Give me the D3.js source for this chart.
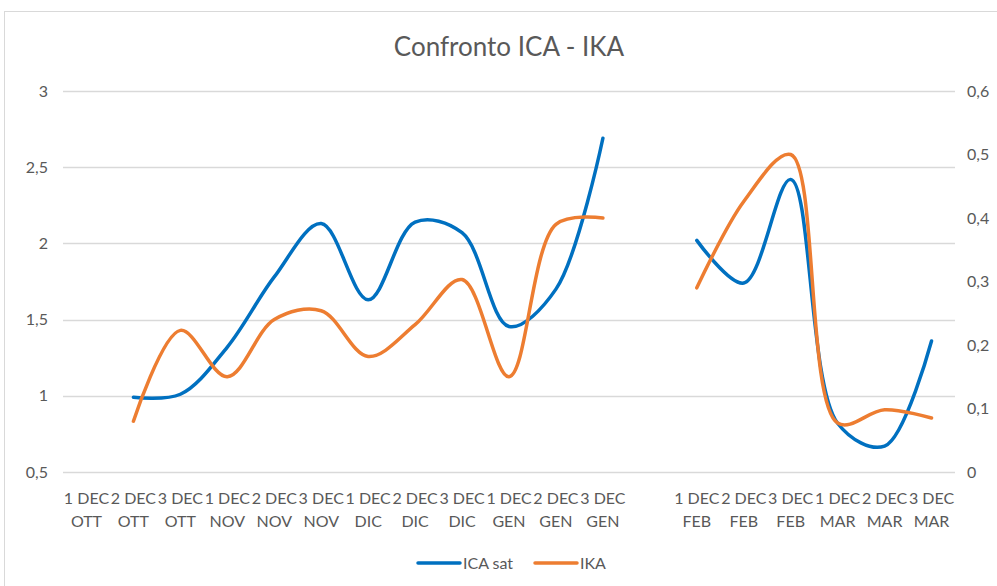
<!DOCTYPE html>
<html>
<head>
<meta charset="utf-8">
<script src="https://cdn.jsdelivr.net/npm/d3@7"></script>
<style>
  body { margin: 0; background: #fff; }
  text { font-family: Lato, "Open Sans", sans-serif; fill: #595959; }
</style>
</head>
<body>
<div id="chart"></div>
<script>
// categories (empty slot between GEN and FEB)
var decadi = ["1 DEC","2 DEC","3 DEC","1 DEC","2 DEC","3 DEC","1 DEC","2 DEC","3 DEC","1 DEC","2 DEC","3 DEC","","1 DEC","2 DEC","3 DEC","1 DEC","2 DEC","3 DEC"];
var mesi = ["OTT","OTT","OTT","NOV","NOV","NOV","DIC","DIC","DIC","GEN","GEN","GEN","","FEB","FEB","FEB","MAR","MAR","MAR"];

var icaSat = [null,0.99,1.01,1.32,1.78,2.13,1.63,2.14,2.07,1.455,1.70,2.69,null,2.02,1.74,2.42,0.82,0.67,1.36];
var ika    = [null,0.08,0.223,0.15,0.24,0.254,0.182,0.232,0.303,0.15,0.39,0.40,null,0.29,0.426,0.50,0.077,0.098,0.085];

var leftTicks = [0.5,1,1.5,2,2.5,3];
var rightTicks = [0,0.1,0.2,0.3,0.4,0.5,0.6];

var W = 997, H = 586;
var margin = {top: 91, right: 42, bottom: 114, left: 63},
    width = W - margin.left - margin.right,
    height = H - margin.top - margin.bottom;

var svg = d3.select("#chart").append("svg")
    .attr("width", W)
    .attr("height", H);

// outer chart border
svg.append("rect")
    .attr("x", 4.5).attr("y", 11.5)
    .attr("width", W + 10).attr("height", H + 10)
    .attr("fill", "none")
    .attr("stroke", "#d9d9d9");

svg.append("text")
    .attr("x", 509).attr("y", 56)
    .attr("text-anchor", "middle")
    .style("font-size", "26px")
    .text("Confronto ICA - IKA");

var g = svg.append("g")
    .attr("transform", "translate(" + margin.left + "," + margin.top + ")");

var xScale = d3.scaleBand()
    .domain(d3.range(decadi.length))
    .range([0, width]);

var yLeft = d3.scaleLinear().domain([0.5, 3]).range([height, 0]);
var yRight = d3.scaleLinear().domain([0, 0.6]).range([height, 0]);

var fmt = function(d) { return String(d).replace(".", ","); };

// gridlines
g.selectAll(".grid")
    .data(leftTicks)
  .enter().append("line")
    .attr("class", "grid")
    .attr("x1", 0).attr("x2", width)
    .attr("y1", function(d) { return Math.round(yLeft(d)) + 0.5; })
    .attr("y2", function(d) { return Math.round(yLeft(d)) + 0.5; })
    .attr("stroke", "#d9d9d9")
    .attr("stroke-width", 1.3);

// left axis
var yAxisL = g.append("g")
    .call(d3.axisLeft(yLeft).tickValues(leftTicks).tickSize(0).tickPadding(15).tickFormat(fmt));
yAxisL.select(".domain").remove();
yAxisL.selectAll("text").style("font-size", "16px").attr("fill", "#595959");

// right axis
var yAxisR = g.append("g")
    .attr("transform", "translate(" + width + ",0)")
    .call(d3.axisRight(yRight).tickValues(rightTicks).tickSize(0).tickPadding(12).tickFormat(fmt));
yAxisR.select(".domain").remove();
yAxisR.selectAll("text").style("font-size", "16px").attr("fill", "#595959");

// x labels, two lines
var xl = g.selectAll(".xlab")
    .data(decadi)
  .enter().append("text")
    .attr("class", "xlab")
    .attr("text-anchor", "middle")
    .style("font-size", "16px")
    .attr("transform", function(d, i) {
      return "translate(" + (xScale(i) + xScale.bandwidth() / 2) + "," + (height + 32) + ")";
    });
xl.append("tspan").attr("x", 0).attr("dy", 0).text(function(d) { return d; });
xl.append("tspan").attr("x", 0).attr("dy", 23).text(function(d, i) { return mesi[i]; });

var cx = function(i) { return xScale(i) + xScale.bandwidth() / 2; };

var lineL = d3.line()
    .defined(function(d) { return d != null; })
    .x(function(d, i) { return cx(i); })
    .y(function(d) { return yLeft(d); })
    .curve(d3.curveCatmullRom.alpha(0.5));

var lineR = d3.line()
    .defined(function(d) { return d != null; })
    .x(function(d, i) { return cx(i); })
    .y(function(d) { return yRight(d); })
    .curve(d3.curveCatmullRom.alpha(0.5));

g.append("path")
    .datum(icaSat)
    .attr("d", lineL)
    .attr("fill", "none")
    .attr("stroke", "#0070c0")
    .attr("stroke-width", 3.5)
    .attr("stroke-linecap", "round");

g.append("path")
    .datum(ika)
    .attr("d", lineR)
    .attr("fill", "none")
    .attr("stroke", "#ed7d31")
    .attr("stroke-width", 3.5)
    .attr("stroke-linecap", "round");

// legend
var legend = [{name: "ICA sat", col: "#0070c0", x: 418}, {name: "IKA", col: "#ed7d31", x: 535}];
var lg = svg.selectAll(".leg")
    .data(legend)
  .enter().append("g")
    .attr("transform", function(d) { return "translate(" + d.x + ",563)"; });
lg.append("line")
    .attr("x1", 0).attr("x2", 42)
    .attr("stroke", function(d) { return d.col; })
    .attr("stroke-width", 3.5)
    .attr("stroke-linecap", "round");
lg.append("text")
    .attr("x", 45).attr("y", 6)
    .style("font-size", "16px")
    .text(function(d) { return d.name; });
</script>
</body>
</html>
